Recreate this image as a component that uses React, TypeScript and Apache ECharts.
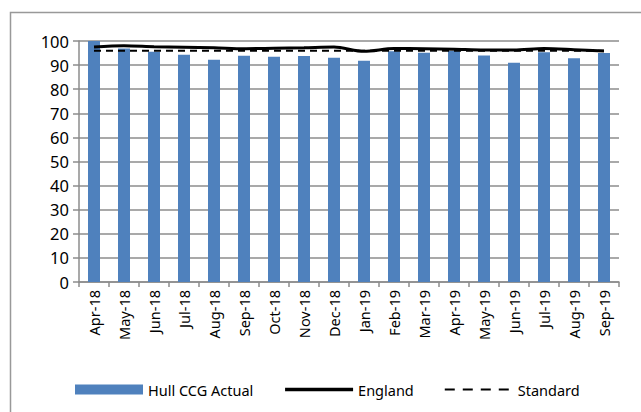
import React, { useEffect, useRef } from "react";
import * as echarts from "echarts";

const categories = ["Apr-18","May-18","Jun-18","Jul-18","Aug-18","Sep-18","Oct-18","Nov-18","Dec-18","Jan-19","Feb-19","Mar-19","Apr-19","May-19","Jun-19","Jul-19","Aug-19","Sep-19"];
const hullActual = [100, 96.9, 95.5, 94.3, 92.2, 93.9, 93.5, 93.8, 93.0, 91.8, 95.7, 95.1, 95.8, 94.0, 91.0, 95.3, 92.8, 95.0];
const england = [97.5, 98.0, 97.6, 97.4, 97.2, 96.8, 97.0, 97.2, 97.5, 95.7, 96.9, 96.8, 96.6, 96.3, 96.3, 96.9, 96.4, 95.8];
const standard = [96, 96, 96, 96, 96, 96, 96, 96, 96, 96, 96, 96, 96, 96, 96, 96, 96, 96];
const yTicks = { min: 0, max: 100, interval: 10 };

const FONT = "'Noto Sans', 'Open Sans', sans-serif";
const HIDDEN = { color: "rgba(0,0,0,0)", borderWidth: 0, borderColor: "rgba(0,0,0,0)", opacity: 0 };

export default function App() {
  const ref = useRef<HTMLDivElement>(null);
  useEffect(() => {
    if (!ref.current) return;
    const chart = echarts.init(ref.current, null, { renderer: "svg" });
    chart.setOption({
      animation: false,
      backgroundColor: "#ffffff",
      graphic: [
        {
          type: "rect",
          shape: { x: 10.5, y: 12.5, width: 640, height: 410 },
          style: { fill: "none", stroke: "#999999", lineWidth: 1.5 },
          silent: true,
        },
      ],
      grid: { left: 79, right: 22, top: 41, bottom: 130, containLabel: false },
      legend: {
        left: 70,
        top: 377,
        itemWidth: 68,
        itemHeight: 10,
        itemGap: 30,
        textStyle: { fontFamily: FONT, fontSize: 14.5, color: "#000" },
        data: [
          { name: "Hull CCG Actual", icon: "rect" },
          { name: "England", itemStyle: HIDDEN, lineStyle: { color: "#000", width: 3.5 } },
          { name: "Standard", itemStyle: HIDDEN, lineStyle: { color: "#000", width: 2, type: [10, 8] } },
        ],
      },
      xAxis: {
        type: "category",
        data: categories,
        boundaryGap: true,
        axisLine: { lineStyle: { color: "#8c8c8c", width: 1.5 } },
        axisTick: { show: true, length: 5, lineStyle: { color: "#8c8c8c", width: 1.5 } },
        axisLabel: {
          rotate: 90,
          margin: 8,
          interval: 0,
          fontFamily: FONT,
          fontSize: 14.5,
          color: "#000",
        },
        splitLine: { show: false },
      },
      yAxis: {
        type: "value",
        min: yTicks.min,
        max: yTicks.max,
        interval: yTicks.interval,
        axisLine: { show: true, lineStyle: { color: "#8c8c8c", width: 1.5 } },
        axisTick: { show: true, length: 6, lineStyle: { color: "#8c8c8c", width: 1.5 } },
        axisLabel: { margin: 10, fontFamily: FONT, fontSize: 16.5, color: "#000" },
        splitLine: { show: true, lineStyle: { color: "#8c8c8c", width: 1.5 } },
      },
      series: [
        {
          name: "Hull CCG Actual",
          type: "bar",
          data: hullActual,
          barWidth: "40%",
          itemStyle: { color: "#4F81BD" },
        },
        {
          name: "England",
          type: "line",
          data: england,
          symbol: "none",
          smooth: 0.3,
          lineStyle: { color: "#000000", width: 3 },
          itemStyle: { color: "#000000" },
        },
        {
          name: "Standard",
          type: "line",
          data: standard,
          symbol: "none",
          lineStyle: { color: "#000000", width: 2, type: [7, 5] },
          itemStyle: { color: "#000000" },
        },
      ],
    });
    return () => chart.dispose();
  }, []);
  return <div ref={ref} style={{ width: 641, height: 412, position: "absolute", left: 0, top: 0 }} />;
}
